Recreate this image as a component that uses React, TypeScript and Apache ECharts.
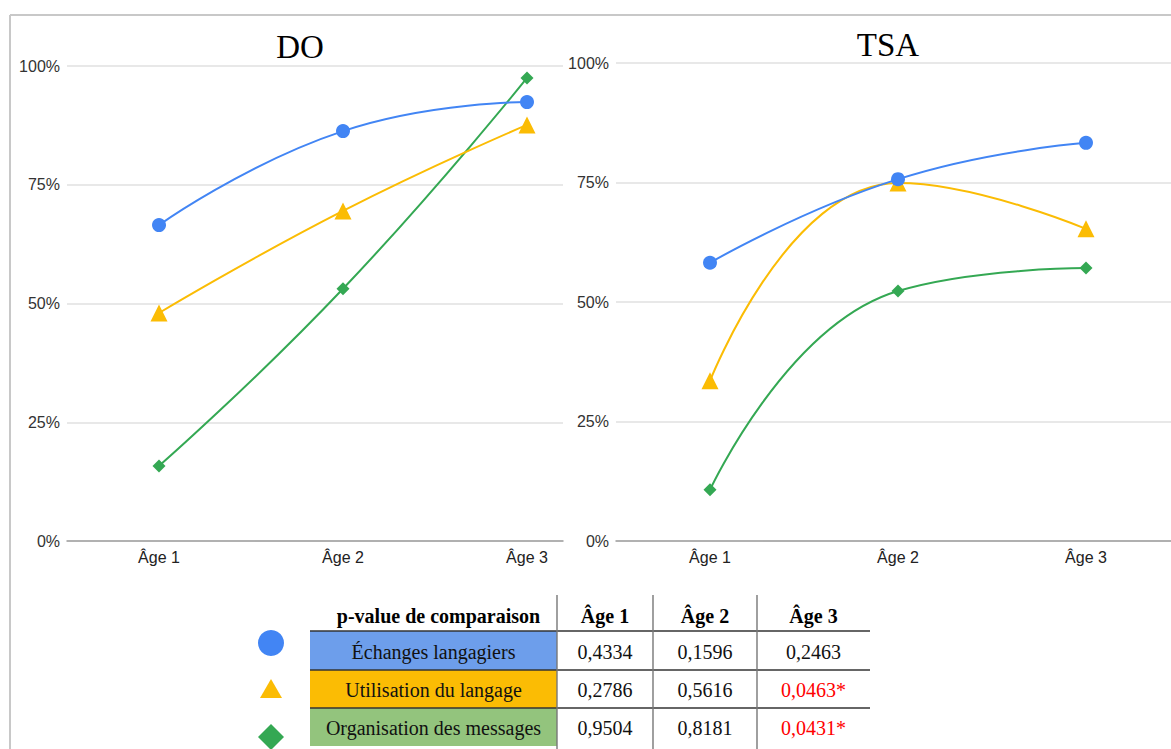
import React, { useEffect, useRef } from "react";
import * as echarts from "echarts";

const categories = ["Âge 1", "Âge 2", "Âge 3"];
const yTicks = [0, 0.25, 0.5, 0.75, 1];

const doEchanges = [0.665, 0.863, 0.924];
const doUtilisation = [0.48, 0.695, 0.876];
const doOrganisation = [0.158, 0.531, 0.975];

const tsaEchanges = [0.582, 0.757, 0.833];
const tsaUtilisation = [0.335, 0.749, 0.653];
const tsaOrganisation = [0.107, 0.523, 0.571];

const seriesNames = ["Échanges langagiers", "Utilisation du langage", "Organisation des messages"];
const tableHeader = ["p-value de comparaison", "Âge 1", "Âge 2", "Âge 3"];
const pEchanges = [0.4334, 0.1596, 0.2463];
const pUtilisation = [0.2786, 0.5616, 0.0463];
const pOrganisation = [0.9504, 0.8181, 0.0431];

const COLORS = ["#4285f4", "#fbbc04", "#34a853"];
const CELL_BG = ["#6d9eeb", "#fbbc04", "#93c47d"];
const SYMBOLS = ["circle", "triangle", "diamond"];
const SYM_SIZE = [14, 17, 13];

const SERIF = "'Liberation Serif', 'Times New Roman', serif";
const SANS = "'Liberation Sans', Arial, sans-serif";

export default function App() {
  const ref = useRef<HTMLDivElement>(null);
  useEffect(() => {
    document.body.style.margin = "0";
    if (!ref.current) return;
    const chart = echarts.init(ref.current, undefined, { renderer: "svg" });

    const xAxisBase = (grid: number, max: number) => ({
      type: "value",
      gridIndex: grid,
      min: 0.5,
      max,
      interval: 0.5,
      axisTick: { show: false },
      splitLine: { show: false },
      axisLine: { show: true, lineStyle: { color: "#9e9e9e", width: 1.5 } },
      axisLabel: {
        color: "#222",
        fontSize: 16,
        fontFamily: SANS,
        margin: 8,
        showMaxLabel: false,
        formatter: (v: number) => (Number.isInteger(v) && v >= 1 && v <= 3 ? categories[v - 1] : ""),
      },
    });
    const yAxisBase = (grid: number) => ({
      type: "value",
      gridIndex: grid,
      min: yTicks[0],
      max: yTicks[yTicks.length - 1],
      interval: 0.25,
      axisLine: { show: false },
      axisTick: { show: false },
      splitLine: { lineStyle: { color: "#e0e0e0", width: 1.5 } },
      axisLabel: {
        color: "#333",
        fontSize: 16,
        fontFamily: SANS,
        margin: 7,
        formatter: (v: number) => Math.round(v * 100) + "%",
      },
    });

    const doData = [doEchanges, doUtilisation, doOrganisation];
    const tsaData = [tsaEchanges, tsaUtilisation, tsaOrganisation];
    const series: any[] = [];
    [doData, tsaData].forEach((set, gi) => {
      set.forEach((vals, si) => {
        series.push({
          type: "line",
          name: seriesNames[si],
          xAxisIndex: gi,
          yAxisIndex: gi,
          smooth: 0.5,
          data: vals.map((v, i) => [i + 1, v]),
          symbol: SYMBOLS[si],
          symbolSize: SYM_SIZE[si],
          showAllSymbol: true,
          lineStyle: { color: COLORS[si], width: 2 },
          itemStyle: { color: COLORS[si] },
          z: 3 - si + 2,
        });
      });
    });

    const graphics: any[] = [];
    graphics.push({ type: "line", shape: { x1: 10, y1: 15, x2: 1171, y2: 15 }, style: { stroke: "#c8c8c8", lineWidth: 2 } });
    graphics.push({ type: "line", shape: { x1: 10, y1: 15, x2: 10, y2: 749 }, style: { stroke: "#c8c8c8", lineWidth: 2 } });
    graphics.push({ type: "text", x: 300, y: 47, style: { text: "DO", font: `33px ${SERIF}`, fill: "#000", align: "center", verticalAlign: "middle" } });
    graphics.push({ type: "text", x: 888, y: 45, style: { text: "TSA", font: `33px ${SERIF}`, fill: "#000", align: "center", verticalAlign: "middle" } });

    const colEdges = [310, 557, 653, 757, 870];
    const rowEdges = [595, 631, 670, 708, 746];
    const pRows = [pEchanges, pUtilisation, pOrganisation];
    pRows.forEach((_, r) => {
      graphics.push({
        type: "rect",
        shape: { x: colEdges[0], y: rowEdges[r + 1], width: colEdges[1] - colEdges[0], height: rowEdges[r + 2] - rowEdges[r + 1] },
        style: { fill: CELL_BG[r] },
      });
    });
    tableHeader.forEach((h, c) => {
      graphics.push({
        type: "text",
        x: (colEdges[c] + colEdges[c + 1]) / 2 + (c === 0 ? 5 : 0),
        y: (rowEdges[0] + rowEdges[1]) / 2 + 3,
        style: { text: h, font: `bold 20px ${SERIF}`, fill: "#000", align: "center", verticalAlign: "middle" },
      });
    });
    pRows.forEach((vals, r) => {
      const cy = (rowEdges[r + 1] + rowEdges[r + 2]) / 2 + 1;
      graphics.push({
        type: "text",
        x: (colEdges[0] + colEdges[1]) / 2,
        y: cy,
        style: { text: seriesNames[r], font: `20px ${SERIF}`, fill: "#111", align: "center", verticalAlign: "middle" },
      });
      vals.forEach((v, c) => {
        const sig = v < 0.05;
        graphics.push({
          type: "text",
          x: (colEdges[c + 1] + colEdges[c + 2]) / 2,
          y: cy,
          style: {
            text: v.toFixed(4).replace(".", ",") + (sig ? "*" : ""),
            font: `20px ${SERIF}`,
            fill: sig ? "#ff0000" : "#111",
            align: "center",
            verticalAlign: "middle",
          },
        });
      });
      const my = [643, 689, 737][r];
      if (r === 0) graphics.push({ type: "circle", shape: { cx: 271, cy: my, r: 13 }, style: { fill: COLORS[0] } });
      if (r === 1)
        graphics.push({ type: "polygon", shape: { points: [[271, my - 10], [282, my + 9], [260, my + 9]] }, style: { fill: COLORS[1] } });
      if (r === 2)
        graphics.push({ type: "polygon", shape: { points: [[271, my - 13], [284, my], [271, my + 13], [258, my]] }, style: { fill: COLORS[2] } });
    });
    [631, 670, 708].forEach((y) => {
      graphics.push({ type: "line", shape: { x1: colEdges[0], y1: y, x2: colEdges[4], y2: y }, style: { stroke: "#333", lineWidth: 1.6 } });
    });
    [557, 653, 757].forEach((x) => {
      graphics.push({ type: "line", shape: { x1: x, y1: 595, x2: x, y2: 749 }, style: { stroke: "#777", lineWidth: 1.4 } });
    });

    chart.setOption({
      animation: false,
      backgroundColor: "#fff",
      grid: [
        { left: 67, right: 1171 - 563, top: 66, bottom: 749 - 541 },
        { left: 616, right: 0, top: 63, bottom: 749 - 541 },
      ],
      xAxis: [xAxisBase(0, 0.5 + 496 / 184), xAxisBase(1, 0.5 + 555 / 188)],
      yAxis: [yAxisBase(0), yAxisBase(1)],
      series,
      graphic: { elements: graphics },
    });
    return () => chart.dispose();
  }, []);
  return <div ref={ref} style={{ width: 1171, height: 749 }} />;
}
